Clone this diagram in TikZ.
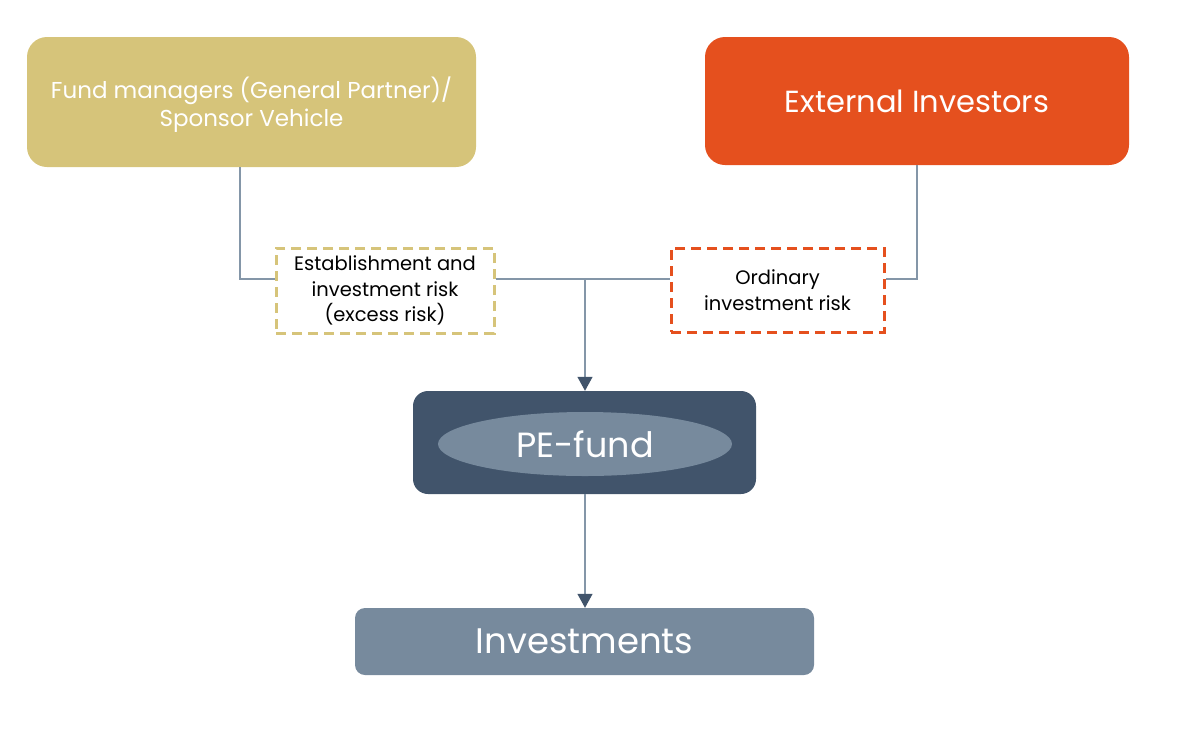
\documentclass[tikz,border=0pt]{standalone}
\usepackage{fontspec}
\setmainfont{Poppins}
\usetikzlibrary{arrows.meta,shapes.geometric}
\definecolor{gpTan}{HTML}{D6C47A}
\definecolor{extOr}{HTML}{E5501E}
\definecolor{peDark}{HTML}{41546B}
\definecolor{peLight}{HTML}{778A9D}
\definecolor{lineGray}{HTML}{8496A8}
\tikzset{
  x=1pt, y=-1pt,
  topbox/.style={draw=none, rounded corners=20pt, text=white, align=center, inner sep=0pt},
  riskbox/.style={draw, line width=3pt, dash pattern=on 10pt off 6pt, fill=white, align=center, inner sep=0pt, text=black, font=\fontsize{19.5}{25.5}\selectfont},
  conn/.style={draw=lineGray, line width=1.3pt},
  arr/.style={conn, -{Triangle[width=15pt,length=14pt,fill=peDark,color=peDark]}},
}
\begin{document}
\begin{tikzpicture}
\useasboundingbox (0,0) rectangle (1177,742);
% top boxes
\node[topbox, fill=gpTan, minimum width=449pt, minimum height=130pt] (gp) at (251.5,102) {};
\node[text=white, align=center, inner sep=0pt, font=\fontsize{23}{28}\selectfont] (gpt) at (251.5,104.5) {Fund managers (General Partner)/\\Sponsor Vehicle};
\node[topbox, fill=extOr, minimum width=424pt, minimum height=128pt, font=\fontsize{30.5}{36}\selectfont] (ext) at (917,101) {External Investors};
% risk boxes
\node[riskbox, draw=gpTan, minimum width=218pt, minimum height=85pt] (r1) at (385,290.5) {Establishment and\\investment risk\\(excess risk)};
\node[riskbox, draw=extOr, minimum width=213pt, minimum height=84pt] (r2) at (777.5,290) {Ordinary\\investment risk};
% PE fund
\node[draw=none, fill=peDark, rounded corners=15pt, minimum width=343pt, minimum height=103pt] (pe) at (584.5,442.5) {};
\node[ellipse, fill=peLight, minimum width=294pt, minimum height=64pt, inner sep=0pt, text=white, font=\fontsize{35}{40}\selectfont] (pel) at (585,444) {PE-fund};
% investments
\node[fill=peLight, rounded corners=10pt, minimum width=459pt, minimum height=67pt, inner sep=0pt, text=white, font=\fontsize{35.5}{40}\selectfont] (inv) at (584.5,641.5) {Investments};
% connectors
\coordinate (j) at (585,279);
\draw[conn] (gp.south -| 240,0) |- (r1.west |- 0,279);
\draw[conn] (ext.south -| 917,0) |- (r2.east |- 0,279);
\draw[conn] (r1.east |- 0,279) -- (r2.west |- 0,279);
\draw[arr] (j) -- (pe.north -| j);
\draw[arr] (pe.south -| j) -- (inv.north -| j);
\end{tikzpicture}
\end{document}
